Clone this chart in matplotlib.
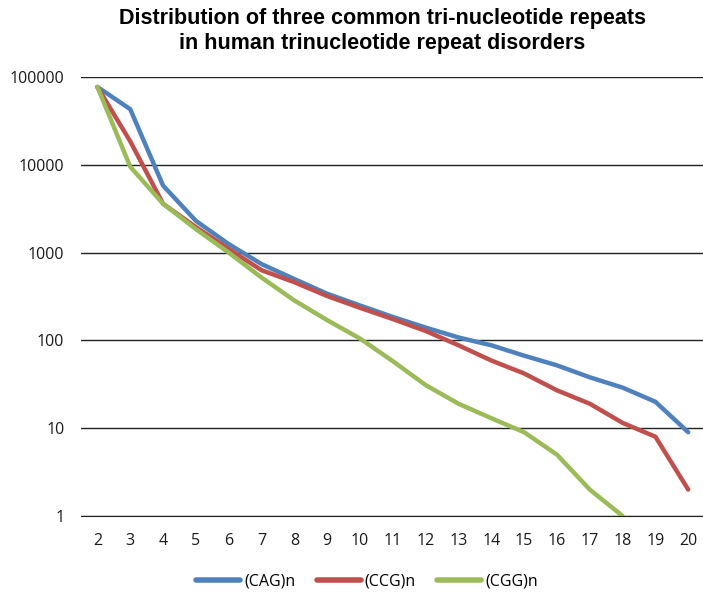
import matplotlib.pyplot as plt

# repeat length (n) on the x axis
repeats = list(range(2, 21))

# counts
cag = [77000, 43000, 5800, 2300, 1250, 740, 500, 340, 250, 185, 140, 108, 88, 67, 52, 38, 29, 20, 9]
ccg = [77000, 18500, 3600, 1950, 1100, 630, 460, 320, 235, 175, 128, 88, 59, 42, 27, 19, 11.5, 8, 2]
cgg = [77000, 9500, 3600, 1850, 1000, 520, 285, 170, 105, 58, 31, 19, 13, 9, 5, 2, 1]

series_names = ['(CAG)n', '(CCG)n', '(CGG)n']
colors = ['#4F81BD', '#C0504D', '#9BBB59']
y_ticks = [1, 10, 100, 1000, 10000, 100000]

fig = plt.figure(figsize=(7.03, 5.94), dpi=100)
ax = fig.add_axes([81 / 703, 1 - 516 / 594, 1 - 81 / 703, (516 - 77) / 594])

for vals, name, c in zip([cag, ccg, cgg], series_names, colors):
    ax.plot(repeats[:len(vals)], vals, color=c, lw=3.2, label=name,
            solid_capstyle='round', solid_joinstyle='round')

ax.set_yscale('log')
ax.set_ylim(1, 100000)
ax.set_xlim(1.5, 20.45)
ax.set_yticks(y_ticks)
ax.set_yticklabels([str(t) for t in y_ticks])
ax.minorticks_off()
ax.set_xticks(repeats)
ax.set_xticklabels([str(r) for r in repeats])
ax.tick_params(length=0, labelsize=11.5)
ax.tick_params(axis='x', pad=12)
ax.tick_params(axis='y', pad=12)
for lab in ax.get_xticklabels() + ax.get_yticklabels():
    lab.set_family('Open Sans')
    lab.set_color('#1a1a1a')

ax.grid(axis='y', color='#222222', lw=1)
ax.set_axisbelow(True)
for s in ['top', 'right', 'left']:
    ax.spines[s].set_visible(False)
ax.spines['bottom'].set_color('#222222')

fig.text(382 / 703, 1 - 31 / 594,
         'Distribution of three common tri-nucleotide repeats\nin human trinucleotide repeat disorders',
         ha='center', va='center', fontsize=15.5, fontweight='bold',
         family='Liberation Sans', linespacing=1.2)

leg = fig.legend(loc='center', bbox_to_anchor=(367 / 703, 1 - 582 / 594), ncol=3,
                 frameon=False, handlelength=2.75, handletextpad=0.25, columnspacing=1.35,
                 prop={'family': 'Open Sans', 'size': 11.5})
for h in leg.get_lines():
    h.set_linewidth(4)

fig.savefig('out.png', dpi=100)
